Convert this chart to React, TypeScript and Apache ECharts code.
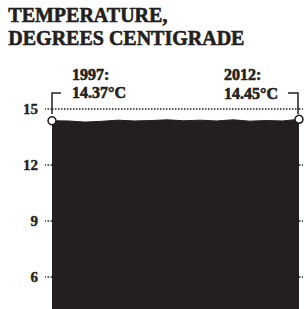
import React, { useEffect, useRef } from "react";
import * as echarts from "echarts";

const years = ["1997","1998","1999","2000","2001","2002","2003","2004","2005","2006","2007","2008","2009","2010","2011","2012"];
const temps = [14.37, 14.36, 14.3, 14.34, 14.4, 14.36, 14.38, 14.42, 14.37, 14.4, 14.36, 14.42, 14.35, 14.38, 14.36, 14.45];
const yTicks = [3, 6, 9, 12, 15];
const titleLines = ["TEMPERATURE,", "DEGREES CENTIGRADE"];
const startNote = ["1997:", "14.37°C"];
const endNote = ["2012:", "14.45°C"];

const INK = "#231f20";
const SERIF = "Liberation Serif";

export default function App() {
  const ref = useRef<HTMLDivElement>(null);
  useEffect(() => {
    if (!ref.current) return;
    const chart = echarts.init(ref.current, undefined, { renderer: "svg" });
    const last = temps.length - 1;
    const circleStyle = { color: "#fff", borderColor: INK, borderWidth: 1.5 };
    const txt = (size: number, sw: number) => ({
      fill: INK,
      fontFamily: SERIF,
      fontWeight: "bold",
      fontSize: size,
      stroke: INK,
      lineWidth: sw,
    });
    chart.setOption({
      animation: false,
      backgroundColor: "#fff",
      grid: { left: 52, right: 5, top: 109, height: 224, outerBoundsMode: "none", containLabel: false },
      xAxis: {
        type: "category",
        data: years,
        boundaryGap: false,
        show: false,
      },
      yAxis: [
        {
          type: "value",
          min: yTicks[0],
          max: yTicks[yTicks.length - 1],
          interval: 3,
          position: "left",
          axisLine: { show: false },
          axisTick: { show: true, length: 7, lineStyle: { type: "dotted", color: INK, width: 1.5 } },
          axisLabel: {
            showMinLabel: false,
            margin: 14,
            color: INK,
            fontFamily: SERIF,
            fontWeight: "bold",
            fontSize: 15,
            textBorderColor: INK,
            textBorderWidth: 0.4,
          },
          splitLine: { show: true, lineStyle: { type: "dotted", color: INK, width: 1.5 } },
        },
        {
          type: "value",
          min: yTicks[0],
          max: yTicks[yTicks.length - 1],
          interval: 3,
          position: "right",
          axisLine: { show: false },
          axisTick: { show: true, length: 4, lineStyle: { type: "dotted", color: INK, width: 1.5 } },
          axisLabel: { show: false },
          splitLine: { show: false },
        },
      ],
      series: [
        {
          type: "line",
          clip: false,
          showSymbol: true,
          showAllSymbol: true,
          data: temps.map((v, i) =>
            i === 0 || i === last
              ? { value: v, symbol: "circle", symbolSize: 8, itemStyle: circleStyle }
              : { value: v, symbol: "none" }
          ),
          lineStyle: { color: INK, width: 1 },
          areaStyle: { color: INK, opacity: 1 },
          itemStyle: { color: INK },
          z: 3,
        },
      ],
      graphic: [
        ...titleLines.map((t, i) => ({
          type: "text",
          left: 8,
          top: 5 + i * 23,
          style: { text: t, ...txt(20, 0.6) },
        })),
        ...startNote.map((t, i) => ({
          type: "text",
          x: 72,
          y: 74 + i * 18,
          style: { text: t, ...txt(16, 0.6), textVerticalAlign: "middle" },
        })),
        ...endNote.map((t, i) => ({
          type: "text",
          x: 224,
          y: 74 + i * 19,
          style: { text: t, ...txt(16, 0.6), textVerticalAlign: "middle" },
        })),
        {
          type: "polyline",
          shape: { points: [[52, 114], [52, 93], [61, 93]] },
          style: { stroke: INK, lineWidth: 1.5, fill: "none" },
          z: 1,
        },
        {
          type: "polyline",
          shape: { points: [[288, 93], [298, 93], [298, 114]] },
          style: { stroke: INK, lineWidth: 1.5, fill: "none" },
          z: 1,
        },
      ],
    });
    return () => chart.dispose();
  }, []);
  return <div ref={ref} style={{ position: "absolute", left: 0, top: 0, width: 304, height: 309 }} />;
}
